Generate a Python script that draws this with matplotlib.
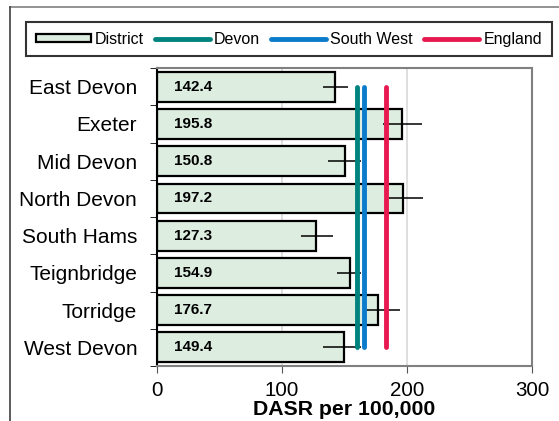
import numpy as np
import matplotlib.pyplot as plt
from matplotlib.patches import Patch
from matplotlib.lines import Line2D

plt.rcParams['font.family'] = ['Liberation Sans', 'DejaVu Sans']

# data
districts = ['East Devon', 'Exeter', 'Mid Devon', 'North Devon',
             'South Hams', 'Teignbridge', 'Torridge', 'West Devon']
dasr = [142.4, 195.8, 150.8, 197.2, 127.3, 154.9, 176.7, 149.4]
ci_low = [132.8, 180.5, 136.8, 185.3, 115.2, 144.0, 166.6, 132.8]
ci_high = [153.3, 212.0, 163.5, 213.0, 140.8, 163.5, 194.6, 163.0]
devon = 160.0
south_west = 166.0
england = 183.0

bar_col = '#ddede0'
teal = '#00837f'
blue = '#0b7bcc'
red = '#e8194f'

fig = plt.figure(figsize=(5.59, 4.21), dpi=100)
ax = fig.add_axes([0.2803, 0.1306, 0.6714, 0.7078])

y = np.arange(len(districts))
vals = np.array(dasr)
err = [vals - np.array(ci_low), np.array(ci_high) - vals]

ax.barh(y, vals, height=0.8, color=bar_col, edgecolor='black', linewidth=1.6, zorder=2)
ax.errorbar(vals, y, xerr=err, fmt='none', ecolor='black', elinewidth=1.1, capsize=0, zorder=3)

for v, c in [(devon, teal), (south_west, blue), (england, red)]:
    ax.plot([v, v], [0, len(districts) - 1], color=c, lw=3.5,
            solid_capstyle='round', zorder=4)

for i, v in enumerate(dasr):
    ax.text(14, i, f'{v:.1f}', va='center', ha='left', fontsize=11,
            fontweight='bold', zorder=5)

ax.set_xlim(0, 300)
ax.set_ylim(len(districts) - 0.5, -0.5)
ax.set_xticks([0, 100, 200, 300])
ax.tick_params(axis='x', labelsize=14.8, length=5, color='#555555', pad=6)
ax.set_yticks(y)
ax.set_yticklabels(districts)
ax.tick_params(axis='y', which='major', length=0, labelsize=15, pad=14)
ax.set_yticks(np.arange(-0.5, len(districts), 1), minor=True)
ax.tick_params(axis='y', which='minor', length=5, color='black')
ax.xaxis.grid(True, color='#d9d9d9', lw=1.2, zorder=0)
ax.set_axisbelow(True)

ax.spines['left'].set_color('black')
ax.spines['left'].set_linewidth(1.5)
for s in ['top', 'right', 'bottom']:
    ax.spines[s].set_color('#808080')
    ax.spines[s].set_linewidth(1.5)

ax.set_xlabel('DASR per 100,000', fontsize=15.3, fontweight='bold', labelpad=0)

handles = [Patch(facecolor=bar_col, edgecolor='black', linewidth=1.6),
           Line2D([0], [0], color=teal, lw=3.5, solid_capstyle='round'),
           Line2D([0], [0], color=blue, lw=3.5, solid_capstyle='round'),
           Line2D([0], [0], color=red, lw=3.5, solid_capstyle='round')]
leg = fig.legend(handles, ['District', 'Devon', 'South West', 'England'],
                 loc='upper left', bbox_to_anchor=(26 / 559, 1 - 22 / 421), ncol=4,
                 fontsize=11.5, frameon=True, fancybox=False, handlelength=3.45,
                 handleheight=0.45, handletextpad=0.25, columnspacing=0.7,
                 borderpad=0.6, borderaxespad=0)
leg.get_frame().set_edgecolor('black')
leg.get_frame().set_linewidth(1.5)

# outer chart frame
fig.add_artist(Line2D([10 / 559, 1], [1 - 7 / 421, 1 - 7 / 421], color='#808080', lw=1.2))
fig.add_artist(Line2D([10 / 559, 10 / 559], [0, 1 - 7 / 421], color='#404040', lw=1.2))

plt.savefig('out.png', dpi=100)
